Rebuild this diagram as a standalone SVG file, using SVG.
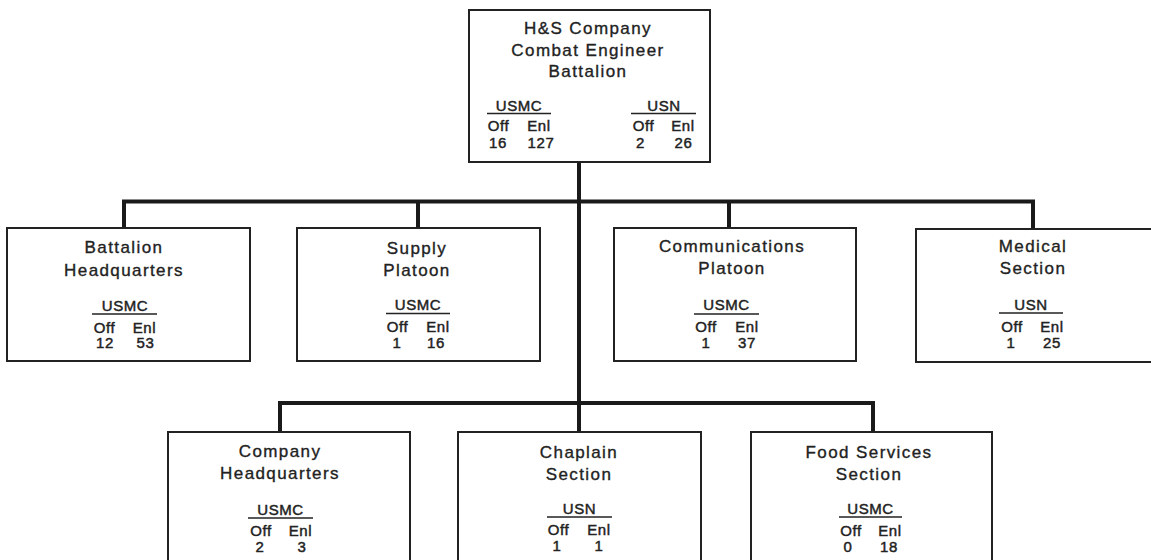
<svg xmlns="http://www.w3.org/2000/svg" width="1151" height="560" viewBox="0 0 1151 560">
<style>
.box{fill:#fff;stroke:#222;stroke-width:2}
.t{font-family:"Liberation Sans",Arial,sans-serif;font-size:17px;letter-spacing:1.4px;fill:#222;stroke:#222;stroke-width:0.35;text-anchor:middle}
.s{font-family:"Liberation Sans",Arial,sans-serif;font-size:15px;letter-spacing:0.6px;fill:#222;stroke:#222;stroke-width:0.45;text-anchor:middle}
.ul{stroke:#222;stroke-width:1.5}
.c{fill:none;stroke:#1a1a1a;stroke-width:4;stroke-linejoin:miter}
</style>
<rect width="1151" height="560" fill="#fff"/>
<g id="connectors">
<path class="c" d="M579 162 V432"/>
<path class="c" d="M124 228 V201.5 H1033 V229"/>
<path class="c" d="M418 201.5 V228"/>
<path class="c" d="M729 201.5 V228"/>
<path class="c" d="M280 432 V403 H873 V432"/>
</g>
<g id="hs-company">
<rect class="box" x="469" y="10" width="241" height="152"/>
<text class="t" x="588" y="34">H&amp;S Company</text>
<text class="t" x="588" y="56">Combat Engineer</text>
<text class="t" x="588" y="77">Battalion</text>
<text class="s" x="519" y="111">USMC</text>
<line class="ul" x1="487" y1="113.5" x2="551" y2="113.5"/>
<text class="s" x="498.5" y="131">Off</text>
<text class="s" x="539" y="131">Enl</text>
<text class="s" x="498" y="148">16</text>
<text class="s" x="541" y="148">127</text>
<text class="s" x="664" y="111">USN</text>
<line class="ul" x1="631" y1="113.5" x2="696" y2="113.5"/>
<text class="s" x="643.5" y="131">Off</text>
<text class="s" x="683" y="131">Enl</text>
<text class="s" x="640.5" y="148">2</text>
<text class="s" x="683.5" y="148">26</text>
</g>
<g id="battalion-hq">
<rect class="box" x="7" y="228" width="243" height="133"/>
<text class="t" x="124" y="253">Battalion</text>
<text class="t" x="124" y="276">Headquarters</text>
<text class="s" x="125" y="310.5">USMC</text>
<line class="ul" x1="92" y1="314" x2="157" y2="314"/>
<text class="s" x="104.5" y="333">Off</text>
<text class="s" x="144.5" y="333">Enl</text>
<text class="s" x="105" y="348">12</text>
<text class="s" x="145.5" y="348">53</text>
</g>
<g id="supply-platoon">
<rect class="box" x="297" y="228" width="243" height="133"/>
<text class="t" x="417" y="254">Supply</text>
<text class="t" x="417" y="276">Platoon</text>
<text class="s" x="418" y="310">USMC</text>
<line class="ul" x1="386" y1="313.5" x2="450" y2="313.5"/>
<text class="s" x="397.5" y="332">Off</text>
<text class="s" x="438" y="332">Enl</text>
<text class="s" x="397" y="348">1</text>
<text class="s" x="436" y="348">16</text>
</g>
<g id="communications-platoon">
<rect class="box" x="614" y="228" width="242" height="133"/>
<text class="t" x="732" y="252">Communications</text>
<text class="t" x="732" y="274">Platoon</text>
<text class="s" x="726.5" y="310">USMC</text>
<line class="ul" x1="694" y1="314" x2="759" y2="314"/>
<text class="s" x="706" y="332">Off</text>
<text class="s" x="747" y="332">Enl</text>
<text class="s" x="706" y="348">1</text>
<text class="s" x="747" y="348">37</text>
</g>
<g id="medical-section">
<rect class="box" x="916" y="229" width="250" height="133"/>
<text class="t" x="1033" y="252">Medical</text>
<text class="t" x="1033" y="274">Section</text>
<text class="s" x="1031" y="309.5">USN</text>
<line class="ul" x1="999" y1="313" x2="1063" y2="313"/>
<text class="s" x="1012" y="332">Off</text>
<text class="s" x="1052" y="332">Enl</text>
<text class="s" x="1011" y="348">1</text>
<text class="s" x="1052" y="348">25</text>
</g>
<g id="company-hq">
<rect class="box" x="168" y="432" width="242" height="140"/>
<text class="t" x="280" y="457">Company</text>
<text class="t" x="280" y="479">Headquarters</text>
<text class="s" x="280.5" y="515">USMC</text>
<line class="ul" x1="248" y1="518" x2="313" y2="518"/>
<text class="s" x="261" y="536">Off</text>
<text class="s" x="300.5" y="536">Enl</text>
<text class="s" x="260" y="552">2</text>
<text class="s" x="302" y="552">3</text>
</g>
<g id="chaplain-section">
<rect class="box" x="458" y="432" width="243" height="140"/>
<text class="t" x="579" y="458">Chaplain</text>
<text class="t" x="579" y="480">Section</text>
<text class="s" x="579.5" y="513.5">USN</text>
<line class="ul" x1="547" y1="517" x2="612" y2="517"/>
<text class="s" x="558.5" y="535">Off</text>
<text class="s" x="599" y="535">Enl</text>
<text class="s" x="557" y="551">1</text>
<text class="s" x="599" y="551">1</text>
</g>
<g id="food-services-section">
<rect class="box" x="751" y="432" width="241" height="140"/>
<text class="t" x="869" y="458">Food Services</text>
<text class="t" x="869" y="480">Section</text>
<text class="s" x="870.5" y="514">USMC</text>
<line class="ul" x1="839" y1="517" x2="902" y2="517"/>
<text class="s" x="851" y="535.5">Off</text>
<text class="s" x="890" y="535.5">Enl</text>
<text class="s" x="848" y="552">0</text>
<text class="s" x="889" y="552">18</text>
</g>
</svg>
